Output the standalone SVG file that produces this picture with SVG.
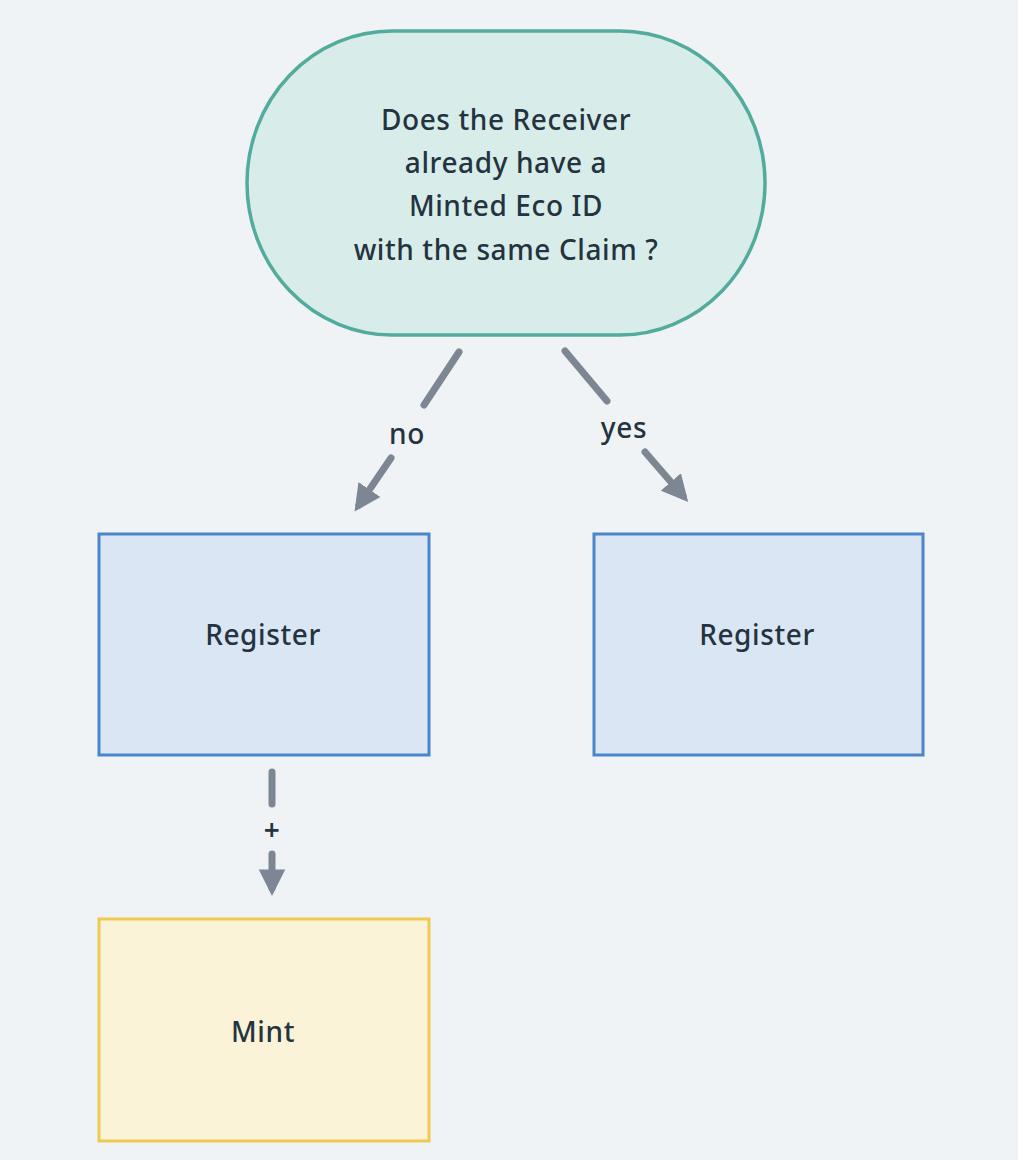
<svg xmlns="http://www.w3.org/2000/svg" width="1018" height="1160" viewBox="0 0 1018 1160">
<style>
.t{font-family:"Noto Sans","DejaVu Sans",sans-serif;font-size:28px;letter-spacing:0.6px;fill:#253340;text-anchor:middle;font-weight:500}
.c{stroke:#7d8793;stroke-width:7;stroke-linecap:round;fill:none}
.reg{fill:#dae6f4;stroke:#4a86c8;stroke-width:3}
.mint{fill:#faf3d8;stroke:#f0c94f;stroke-width:3}
</style>
<defs>
<marker id="ah" viewBox="0 0 10 10" refX="7" refY="5" markerWidth="3.8" markerHeight="3.8" orient="auto" markerUnits="strokeWidth">
<path d="M0,0 L10,5 L0,10 z" fill="#7d8793"/>
</marker>
</defs>
<rect width="1018" height="1160" fill="#eff3f6"/>
<g id="decision">
<rect x="247" y="31" width="518" height="304" rx="145" ry="152" fill="#d8ede9" stroke="#52ab9c" stroke-width="3.5"/>
<text class="t" x="506" y="130">Does the Receiver</text>
<text class="t" x="506" y="173">already have a</text>
<text class="t" x="506" y="216">Minted Eco ID</text>
<text class="t" x="506" y="260">with the same Claim ?</text>
</g>
<g id="register-left">
<rect class="reg" x="99" y="534" width="330" height="221"/>
<text class="t" x="263" y="645">Register</text>
</g>
<g id="register-right">
<rect class="reg" x="594" y="534" width="329" height="221"/>
<text class="t" x="757" y="645">Register</text>
</g>
<g id="mint">
<rect class="mint" x="99" y="919" width="330" height="222"/>
<text class="t" x="263" y="1042">Mint</text>
</g>
<g id="connectors">
<line class="c" x1="459" y1="352" x2="424" y2="405"/>
<line class="c" x1="391" y1="458" x2="359" y2="505" marker-end="url(#ah)"/>
<text class="t" x="407" y="444">no</text>
<line class="c" x1="565" y1="351" x2="607" y2="401"/>
<line class="c" x1="645" y1="452" x2="683" y2="496" marker-end="url(#ah)"/>
<text class="t" x="624" y="438">yes</text>
<line class="c" x1="272" y1="772" x2="272" y2="804"/>
<line class="c" x1="272" y1="854" x2="272" y2="888" marker-end="url(#ah)"/>
<text class="t" x="272" y="840" style="font-size:28px;font-weight:600">+</text>
</g>
</svg>
